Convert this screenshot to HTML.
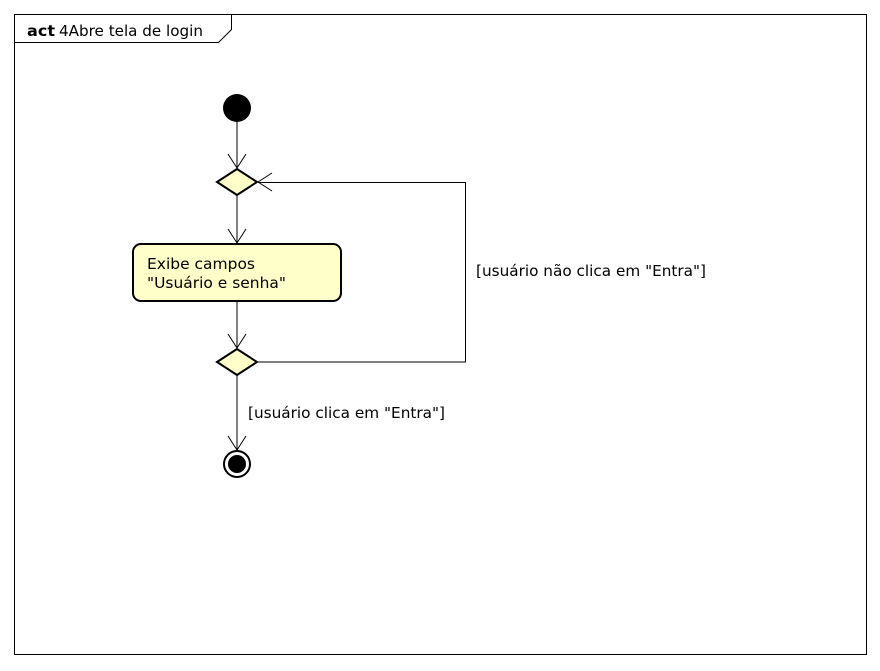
<!DOCTYPE html>
<html><head><style>body{margin:0;background:#fff}</style></head><body>
<svg width="880" height="666" xmlns="http://www.w3.org/2000/svg" font-family="DejaVu Sans, sans-serif" font-size="15">
<rect x="0" y="0" width="880" height="666" fill="#fff"/>
<rect x="14.5" y="14.5" width="852" height="640" fill="none" stroke="#000" stroke-width="1"/>
<path d="M14.5 42.5 H218.5 L231.5 29.5 V14.5" fill="none" stroke="#000"/>
<text x="27" y="36" font-weight="bold" textLength="28" lengthAdjust="spacingAndGlyphs">act</text><text x="59" y="36" textLength="144" lengthAdjust="spacingAndGlyphs">4Abre tela de login</text>
<circle cx="237" cy="108" r="14" fill="#000"/>
<g stroke="#000" fill="none" stroke-width="1">
<path d="M237 122 V168 M228 154 L237 168 L246 154"/>
<path d="M237 196 V243 M228 229 L237 243 L246 229"/>
<path d="M237 302 V348 M228 334 L237 348 L246 334"/>
<path d="M237 376 V450 M228 436 L237 450 L246 436"/>
<path d="M257 362 H465.5 V182.5 H258 M272 173 L258 182 L272 191"/>
</g>
<g stroke="#000" stroke-width="2" fill="#ffffca">
<path d="M217 182 L237 169 L257 182 L237 195 Z"/>
<path d="M217 362 L237 349 L257 362 L237 375 Z"/>
<rect x="133" y="244" width="208" height="57" rx="8"/>
</g>
<circle cx="237" cy="464" r="13" fill="#fff" stroke="#000" stroke-width="2"/>
<circle cx="237" cy="464" r="9" fill="#000"/>
<text x="147" y="269" textLength="108" lengthAdjust="spacingAndGlyphs">Exibe campos</text>
<text x="147" y="288" textLength="139" lengthAdjust="spacingAndGlyphs">"Usuário e senha"</text>
<text x="476" y="276" textLength="230" lengthAdjust="spacingAndGlyphs">[usuário não clica em "Entra"]</text>
<text x="248" y="418" textLength="197" lengthAdjust="spacingAndGlyphs">[usuário clica em "Entra"]</text>
</svg>
</body></html>
